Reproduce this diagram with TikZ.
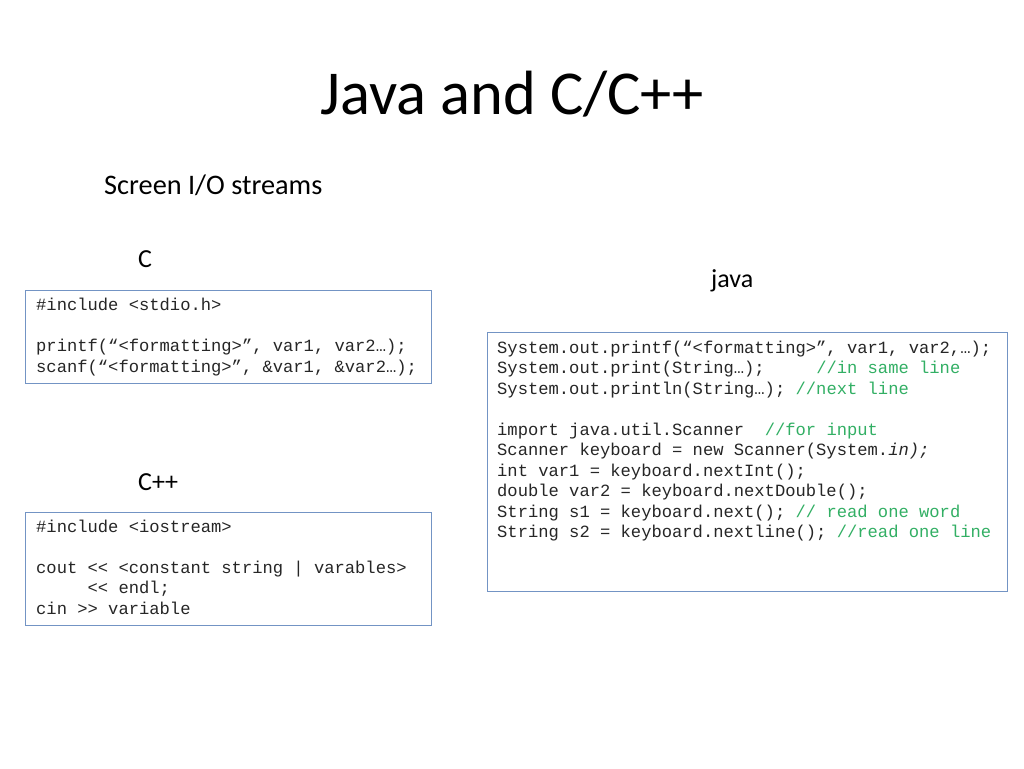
\documentclass[tikz,border=0pt]{standalone}
\usepackage{fontspec}
\setmainfont{Carlito}
\newfontfamily\codefont{Liberation Mono}
\definecolor{boxblue}{RGB}{115,148,196}
\definecolor{cmtgreen}{RGB}{50,175,100}
\begin{document}
\begin{tikzpicture}[x=1pt,y=-1pt,
  codeline/.style={anchor=base west,inner sep=0pt,font=\codefont\fontsize{17.15}{20.5}\selectfont,text=black!85},
  codebox/.style={draw=boxblue,line width=1.2pt,fill=none,inner sep=0pt,anchor=north west},
  label/.style={anchor=base west,inner sep=0pt,font=\fontsize{26}{30}\selectfont},
  cmt/.style={text=cmtgreen}]
\useasboundingbox[fill=white] (0,0) rectangle (1024,768);
\node[anchor=base,inner sep=0pt,font=\fontsize{62.5}{70}\selectfont] (title) at (512,114) {Java and C/C++};
\node[label,font=\fontsize{28.3}{32}\selectfont] (sub) at (104,194) {Screen I/O streams};
\node[label] (lc) at (138,267) {C};
\node[label] (ljava) at (711,287) {java};
\node[label] (lcpp) at (138,490) {C++};
% boxes
\node[codebox,minimum width=406pt,minimum height=93pt] (boxc) at (25,290) {};
\node[codebox,minimum width=520pt,minimum height=259pt] (boxj) at (487,332) {};
\node[codebox,minimum width=406pt,minimum height=113pt] (boxcpp) at (25,512) {};
% C code
\node[codeline] (c1) at (36,310) {\#include <stdio.h>};
\node[codeline] (c2) at (36,351) {printf(“<formatting>”, var1, var2…);};
\node[codeline] (c3) at (36,372) {scanf(“<formatting>”, \&var1, \&var2…);};
% C++ code
\node[codeline] (p1) at (36,532) {\#include <iostream>};
\node[codeline] (p2) at (36,573) {cout <{}< <constant string | varables>};
\node[codeline] (p3) at (36,593) {~~~~~<{}< endl;};
\node[codeline] (p4) at (36,614) {cin >{}> variable};
% Java code
\node[codeline] (j1) at (497,353) {System.out.printf(“<formatting>”, var1, var2,…);};
\node[codeline] (j2) at (497,373) {System.out.print(String…);~~~~~\textcolor{cmtgreen}{//in same line}};
\node[codeline] (j3) at (497,394) {System.out.println(String…); \textcolor{cmtgreen}{//next line}};
\node[codeline] (j4) at (497,435) {import java.util.Scanner~~\textcolor{cmtgreen}{//for input}};
\node[codeline] (j5) at (497,455) {Scanner keyboard = new Scanner(System.\textit{in);}};
\node[codeline] (j6) at (497,476) {int var1 = keyboard.nextInt();};
\node[codeline] (j7) at (497,496) {double var2 = keyboard.nextDouble();};
\node[codeline] (j8) at (497,517) {String s1 = keyboard.next(); \textcolor{cmtgreen}{// read one word}};
\node[codeline] (j9) at (497,537) {String s2 = keyboard.nextline(); \textcolor{cmtgreen}{//read one line}};
\end{tikzpicture}
\end{document}
